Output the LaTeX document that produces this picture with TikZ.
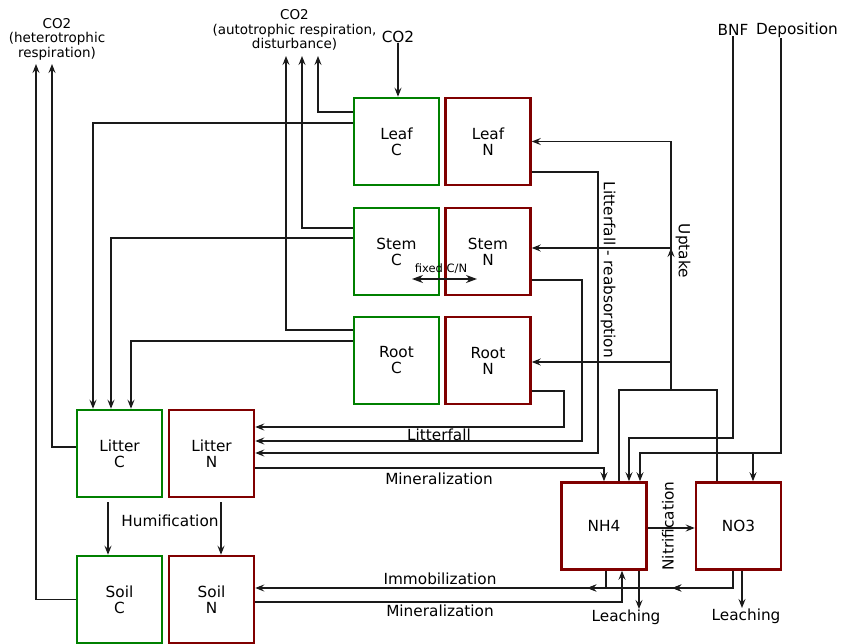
\documentclass[tikz,border=0pt]{standalone}
\usepackage{fontspec}
\setmainfont{DejaVu Sans}
\usetikzlibrary{arrows.meta, decorations.markings, calc, positioning}
\definecolor{cnGreen}{HTML}{008000}
\definecolor{cnRed}{HTML}{800000}
\definecolor{cnLine}{HTML}{1A1A1A}
\tikzset{
  % thin connectors, small barbed tips
  every picture/.append style = {line width=1.2pt, >={Stealth[length=9pt, width=7pt, inset=3.2pt]}},
  cpool/.style   = {draw=cnGreen, line width=2.5pt, minimum width=85pt, minimum height=87pt,
                    inner sep=0pt, align=center, font=\fontsize{15.3}{16}\selectfont},
  npool/.style   = {cpool, draw=cnRed},
  flow/.style    = {->, cnLine},
  link/.style    = {cnLine},
  arrowat/.style = {decoration={markings, mark=at position #1 with {\arrow{>}}},
                    postaction={decorate}},
  lbl/.style     = {font=\fontsize{15.3}{16}\selectfont, inner sep=0pt},
  slbl/.style    = {font=\fontsize{13.5}{14.5}\selectfont, align=center, inner sep=0pt},
  tlbl/.style    = {font=\fontsize{11.5}{12}\selectfont, inner sep=0pt},
}

\begin{document}
\begin{tikzpicture}[x=1pt, y=-1pt]
  \useasboundingbox (0,0) rectangle (841,643);
  % plant pools
  \node[cpool] (leafC) at (396.5,141.5) {Leaf\\C};
  \node[npool] (leafN) at (488,141.5)   {Leaf\\N};
  \node[cpool] (stemC) at (396.5,251.5) {Stem\\C};
  \node[npool] (stemN) at (488,251.5)   {Stem\\N};
  \node[cpool] (rootC) at (396.5,360.5) {Root\\C};
  \node[npool] (rootN) at (488,360.5)   {Root\\N};
  % litter and soil pools
  \node[cpool] (litC)  at (119.5,453.5) {Litter\\C};
  \node[npool] (litN)  at (211.5,453.5) {Litter\\N};
  \node[cpool] (soilC) at (119.5,599.5) {Soil\\C};
  \node[npool] (soilN) at (211.5,599.5) {Soil\\N};
  % mineral N
  \node[npool] (nh4)   at (604,526)     {NH4};
  \node[npool] (no3)   at (738.5,526)   {NO3};

  % outside labels
  \node[slbl] (co2het) at (57,39)    {CO2\\(heterotrophic\\respiration)};
  \node[slbl] (co2aut) at (294.5,30) {CO2\\(autotrophic respiration,\\disturbance)};
  \node[lbl]  (co2in)  at (398,37)   {CO2};
  \node[lbl]  (bnf)    at (733,30)   {BNF};
  \node[lbl]  (dep)    at (797,30)   {Deposition};
  \node[lbl]  (leachA) at (626,617)  {Leaching};
  \node[lbl]  (leachB) at (746,616)  {Leaching};

  \coordinate (hetL) at (36,64);
  \coordinate (hetR) at (52,64);
  \coordinate (autL) at (286,56);
  \coordinate (autM) at (302,56);
  \coordinate (autR) at (318,56);

  % carbon: uptake and respiration
  \draw[flow] (co2in.south) -- (co2in.south |- leafC.north);
  \draw[flow] (leafC.west |- 0,112) -| (autR);
  \draw[flow] (stemC.west |- 0,228) -| (autM);
  \draw[flow] (rootC.west |- 0,330) -| (autL);
  \draw[flow] (litC.west |- 0,447) -| (hetR);
  \draw[flow] (soilC.west) -| (hetL);

  % carbon litterfall and humification
  \draw[flow] (leafC.west |- 0,123) -| (litC.north -| 93,0);
  \draw[flow] (stemC.west |- 0,238) -| (litC.north -| 111,0);
  \draw[flow] (rootC.west |- 0,341) -| (litC.north -| 131,0);
  \draw[flow, shorten <=4pt] (litC.south -| 108,0) -- (soilC.north -| 108,0);
  \draw[flow, shorten <=4pt] (litN.south -| 221,0) -- (soilN.north -| 221,0);
  \node[lbl] (humi) at (170,521) {Humification};

  % fixed C/N between plant pools
  \coordinate (cnL) at (412,279);
  \coordinate (cnR) at (477,279);
  \draw[<->, cnLine, >={Stealth[length=11pt, width=8pt, inset=3.5pt]}] (cnL) -- (cnR);
  \node[tlbl] (cnfix) at (441,269) {fixed C/N};

  % nitrogen litterfall
  \draw[flow] (leafN.east |- 0,172) -| (598,453) -- (litN.east |- 0,453);
  \draw[flow] (stemN.east |- 0,280) -| (582,441) -- (litN.east |- 0,441);
  \draw[flow] (rootN.east |- 0,391) -| (564,427) -- (litN.east |- 0,427);
  \node[lbl, rotate=-90] (lfr) at (608,270) {Litterfall - reabsorption};
  \node[lbl] (lfall) at (439,435) {Litterfall};

  % uptake from mineral N
  \coordinate (upJ) at (671,390);
  \draw[link] (nh4.north -| 619,0) |- (upJ) -| (no3.north -| 717,0);
  \draw[flow] (upJ) -- (upJ |- 0,248);
  \draw[flow] (upJ |- 0,248) -- (stemN.east |- 0,248);
  \draw[flow] (upJ) |- (leafN.east);
  \draw[flow] (upJ) |- (rootN.east |- 0,362);
  \node[lbl, rotate=-90] (upt) at (683,251) {Uptake};

  % external inputs
  \draw[flow] (bnf.south) |- (629,438) -- (nh4.north -| 629,0);
  \draw[flow] (dep.south -| 781,0) |- (640,453) -- (nh4.north -| 640,0);
  \draw[flow] (753,453) -- (no3.north -| 753,0);

  % mineralization, immobilization, nitrification, leaching
  \draw[flow] (litN.east |- 0,468) -| (nh4.north);
  \node[lbl] (minA) at (439,479) {Mineralization};
  \draw[flow, arrowat=78pt, arrowat=163pt] (no3.south -| 733,0) |- (soilN.east |- 0,588);
  \draw[link] (nh4.south -| 606,0) -- (606,588);
  \node[lbl] (immo) at (440,579) {Immobilization};
  \draw[flow] (soilN.east |- 0,602) -| (nh4.south -| 622,0);
  \node[lbl] (minB) at (440,611) {Mineralization};
  \draw[flow] (nh4.east |- 0,528) -- (no3.west |- 0,528);
  \node[lbl, rotate=90] (nitr) at (668,526) {Nitrification};
  \draw[flow] (nh4.south -| 639,0) -- (leachA.north -| 639,0);
  \draw[flow] (no3.south -| 742,0) -- (leachB.north -| 742,0);
\end{tikzpicture}
\end{document}
